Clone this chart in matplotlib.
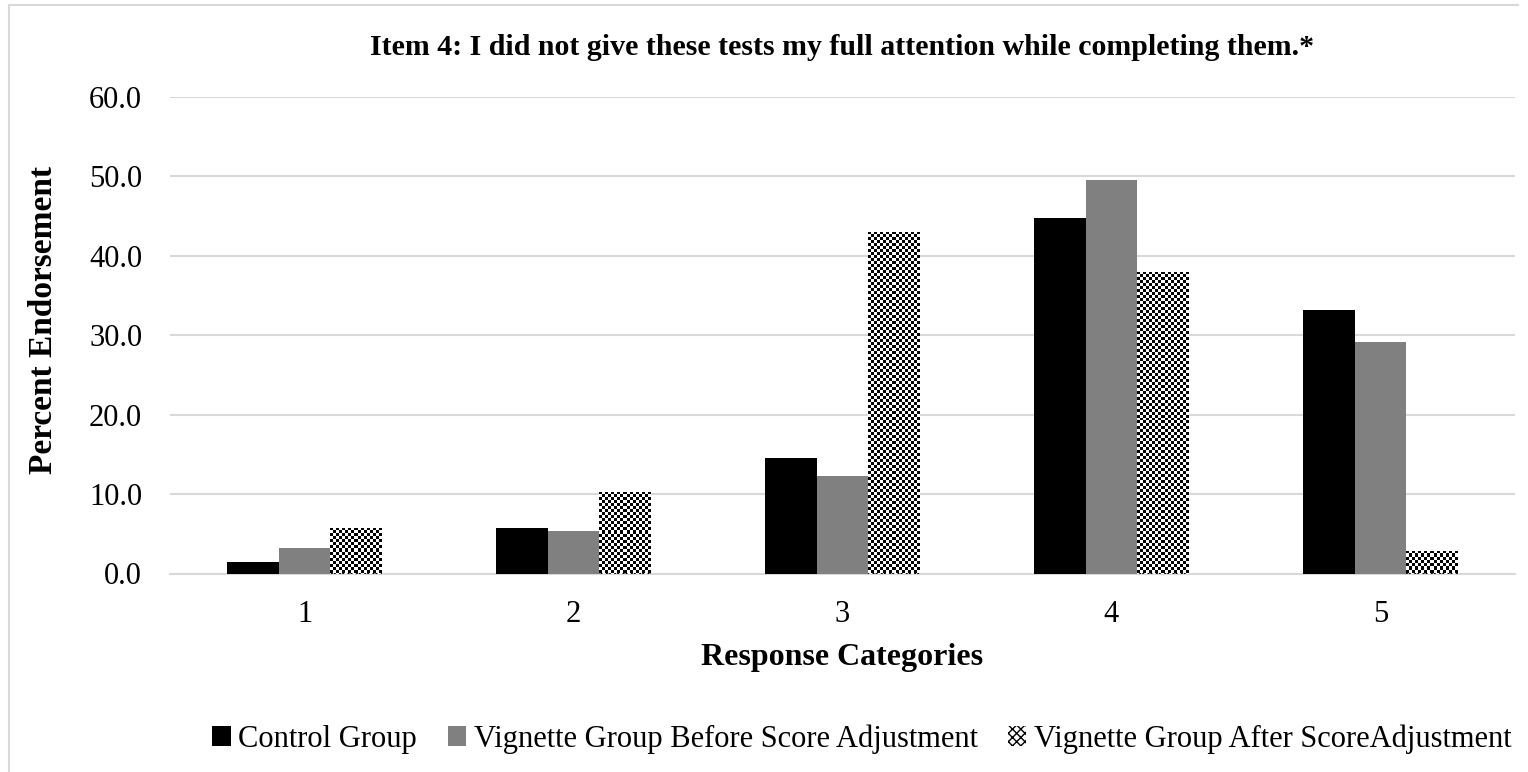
import numpy as np
import matplotlib
matplotlib.use("Agg")
import matplotlib.pyplot as plt
from matplotlib.lines import Line2D
from matplotlib.patches import Patch

categories = ["1", "2", "3", "4", "5"]
series_names = ["Control Group",
                "Vignette Group Before Score Adjustment",
                "Vignette Group After ScoreAdjustment"]
control = [1.4, 5.7, 14.6, 44.8, 33.2]
before_adj = [3.2, 5.4, 12.3, 49.5, 29.2]
after_adj = [5.7, 10.2, 43.0, 38.0, 2.8]
yticks = [0, 10, 20, 30, 40, 50, 60]
title = "Item 4: I did not give these tests my full attention while completing them.*"

plt.rcParams['font.family'] = ['Liberation Serif', 'DejaVu Serif']
plt.rcParams['hatch.linewidth'] = 1.0

W, H = 1528, 772
fig = plt.figure(figsize=(W / 100, H / 100), dpi=100)
ax = fig.add_axes([170 / W, 1 - 573.5 / H, (1515 - 170) / W, (573.5 - 97) / H])

x = np.arange(len(categories))
bw = 0.193
b1 = ax.bar(x - bw, control, bw, color="black", zorder=3)
b2 = ax.bar(x, before_adj, bw, color="#808080", zorder=3)
b3 = ax.bar(x + bw, after_adj, bw, facecolor="white", edgecolor="black",
            hatch="xxxx", linewidth=0, zorder=3)

ax.set_xlim(-0.5, len(categories) - 0.5)
ax.set_ylim(0, 60)
ax.set_yticks(yticks)
ax.set_yticklabels([f"{v:.1f}" for v in yticks])
ax.set_xticks(x)
ax.set_xticklabels(categories)
ax.tick_params(axis="both", length=0, labelsize=22)
ax.tick_params(axis="y", pad=20)
ax.tick_params(axis="x", pad=19)
for s in ["top", "right", "left"]:
    ax.spines[s].set_visible(False)
ax.spines["bottom"].set_color("#d9d9d9")
ax.spines["bottom"].set_linewidth(1.5)
ax.yaxis.grid(True, color="#d9d9d9", linewidth=1.5, zorder=0)
ax.set_axisbelow(True)

ax.set_ylabel("Percent Endorsement", fontsize=24, fontweight="bold", labelpad=22, y=0.532)
ax.set_xlabel("Response Categories", fontsize=23, fontweight="bold", labelpad=10)
ax.set_title(title, fontsize=21.5, fontweight="bold", pad=30)

# checkerboard texture clipped to pattern bars
fig.canvas.draw()
cell = 3.0
for p in b3.patches:
    bb = p.get_window_extent()
    nx = max(1, int(round(bb.width / cell)))
    ny = max(1, int(round(bb.height / cell)))
    board = (np.add.outer(np.arange(ny), np.arange(nx)) % 2).astype(float)
    x0, w = p.get_x(), p.get_width()
    h = p.get_height()
    im = ax.imshow(board, cmap="gray", vmin=0, vmax=1, interpolation="nearest",
                   extent=(x0, x0 + w, 0, h), aspect="auto", zorder=4)
    im.set_clip_path(p)
ax.set_xlim(-0.5, len(categories) - 0.5)
ax.set_ylim(0, 60)

handles = [Patch(facecolor="black"), Patch(facecolor="#808080"),
           Patch(facecolor="white", edgecolor="black", hatch="xxxx", linewidth=0)]
fig.legend(handles, series_names, loc="center", bbox_to_anchor=(862 / W, 1 - 739 / H),
           ncol=3, frameon=False, fontsize=22, handlelength=0.6, handleheight=0.6,
           handletextpad=0.25, columnspacing=1.0)

# chart area border (left and top)
fig.add_artist(Line2D([9 / W, 9 / W], [0, 1 - 5 / H], color="#d9d9d9", linewidth=1.5,
                      transform=fig.transFigure))
fig.add_artist(Line2D([9 / W, 1518 / W], [1 - 5 / H, 1 - 5 / H], color="#d9d9d9",
                      linewidth=1.5, transform=fig.transFigure))

fig.savefig("out.png", dpi=100, facecolor="white")
